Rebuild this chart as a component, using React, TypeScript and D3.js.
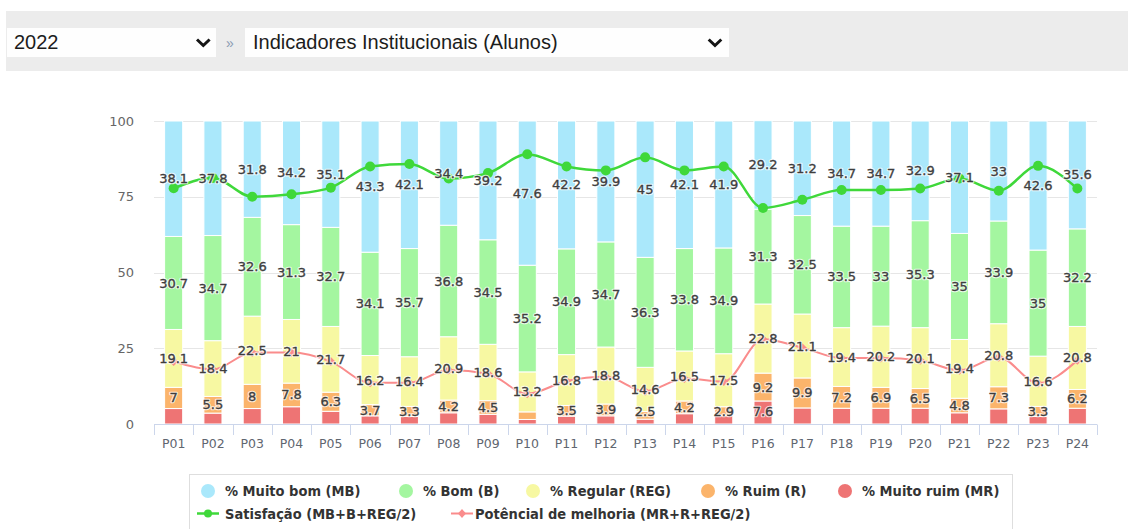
import * as d3 from 'd3';

// categories (questions) and stacked percentages
const categories = [
  'P01', 'P02', 'P03', 'P04', 'P05', 'P06', 'P07', 'P08', 'P09', 'P10', 'P11', 'P12',
  'P13', 'P14', 'P15', 'P16', 'P17', 'P18', 'P19', 'P20', 'P21', 'P22', 'P23', 'P24',
];
const muitoBom = [38.1, 37.8, 31.8, 34.2, 35.1, 43.3, 42.1, 34.4, 39.2, 47.6, 42.2, 39.9, 45, 42.1, 41.9, 29.2, 31.2, 34.7, 34.7, 32.9, 37.1, 33, 42.6, 35.6];
const bom = [30.7, 34.7, 32.6, 31.3, 32.7, 34.1, 35.7, 36.8, 34.5, 35.2, 34.9, 34.7, 36.3, 33.8, 34.9, 31.3, 32.5, 33.5, 33, 35.3, 35, 33.9, 35, 32.2];
const regular = [19.1, 18.4, 22.5, 21, 21.7, 16.2, 16.4, 20.9, 18.6, 13.2, 16.8, 18.8, 14.6, 16.5, 17.5, 22.8, 21.1, 19.4, 20.2, 20.1, 19.4, 20.8, 16.6, 20.8];
const ruim = [7, 5.5, 8, 7.8, 6.3, 3.7, 3.3, 4.2, 4.5, 2.5, 3.5, 3.9, 2.5, 4.2, 2.9, 9.2, 9.9, 7.2, 6.9, 6.5, 4.8, 7.3, 3.3, 6.2];
const muitoRuim = [5.1, 3.6, 5.1, 5.7, 4.2, 2.7, 2.5, 3.7, 3.2, 1.5, 2.6, 2.7, 1.6, 3.4, 2.8, 7.6, 5.3, 5.2, 5.2, 5.2, 3.7, 5.0, 2.5, 5.2];

// line series
const satisfacao = [77.8, 81.2, 75.0, 75.8, 78.0, 85.0, 85.8, 81.0, 82.8, 89.0, 85.0, 83.7, 88.0, 83.7, 85.0, 71.3, 74.0, 77.2, 77.2, 77.7, 81.0, 77.0, 85.2, 77.7];
const potencial = [20.6, 18.0, 23.6, 23.6, 20.6, 13.6, 13.6, 17.8, 16.6, 10.0, 14.2, 15.6, 10.8, 15.0, 14.0, 28.0, 25.2, 21.8, 21.8, 21.0, 17.7, 22.0, 13.5, 21.0];

const yTicks = [0, 25, 50, 75, 100];

type Key = 'mr' | 'r' | 'reg' | 'b' | 'mb';
const stackKeys: Key[] = ['mr', 'r', 'reg', 'b', 'mb'];
const colors: Record<Key, string> = {
  mb: '#aae8fb',
  b: '#a4f6a0',
  reg: '#f7f8a2',
  r: '#fbb46b',
  mr: '#ee7474',
};
// labels are placed in series order (top series first), later ones hidden on overlap
const labelOrder: Key[] = ['mb', 'b', 'reg', 'r', 'mr'];

const rows = categories.map((c, i) => ({
  cat: c,
  mb: muitoBom[i],
  b: bom[i],
  reg: regular[i],
  r: ruim[i],
  mr: muitoRuim[i],
}));

const GREEN = '#3fd83a';
const PINK = '#fa8c8c';

export default function App() {
  const x = d3
    .scaleBand<string>()
    .domain(categories)
    .range([154, 1097])
    .paddingInner(0.54)
    .paddingOuter(0.27);
  const y = d3.scaleLinear().domain([0, 100]).range([424, 121]);
  const bw = x.bandwidth();
  const cx = (c: string) => (x(c) ?? 0) + bw / 2;

  const stacked = d3.stack<(typeof rows)[number], Key>().keys(stackKeys)(rows);

  const line = d3
    .line<number>()
    .x((_, i) => cx(categories[i]))
    .y(v => y(v))
    .curve(d3.curveMonotoneX);

  // data label placement: centred in segment, pushed inside plot, hidden on overlap
  const labels: { x: number; y: number; text: string; key: string }[] = [];
  categories.forEach((c, i) => {
    const shown: number[] = [];
    labelOrder.forEach(k => {
      const layer = stacked.find(s => s.key === k)!;
      const [y0, y1] = layer[i];
      let ly = y((y0 + y1) / 2);
      ly = Math.min(ly, y(0) - 12.5);
      if (shown.some(s => Math.abs(s - ly) < 21)) return;
      shown.push(ly);
      labels.push({ x: cx(c), y: ly, text: String(rows[i][k]), key: `${c}-${k}` });
    });
  });

  const step = x.step();
  const tickXs = d3.range(categories.length + 1).map(i => x.range()[0] + i * step);

  const legendRow1: { label: string; color: string; cx: number }[] = [
    { label: '% Muito bom (MB)', color: colors.mb, cx: 208 },
    { label: '% Bom (B)', color: colors.b, cx: 406 },
    { label: '% Regular (REG)', color: colors.reg, cx: 533 },
    { label: '% Ruim (R)', color: colors.r, cx: 708 },
    { label: '% Muito ruim (MR)', color: colors.mr, cx: 845 },
  ];

  const chartFont = '"DejaVu Sans", Verdana, sans-serif';
  const legendFont = '"DejaVu Sans Condensed", "DejaVu Sans", sans-serif';

  return (
    <svg
      width={1128}
      height={529}
      style={{ position: 'absolute', left: 0, top: 0, background: '#fff' }}
    >
      {/* header with the two selects */}
      <rect x={6} y={11} width={1122} height={60} fill="#ececec" />
      <rect x={7} y={28} width={209} height={29} fill="#fefefe" />
      <text x={14} y={49} fontFamily='"Liberation Sans", Arial, sans-serif' fontSize={20} fill="#1c1c1c">
        2022
      </text>
      <path d="M197,39.5 L203.3,45.5 L209.6,39.5" fill="none" stroke="#151515" strokeWidth={3} />
      <text x={230} y={48} textAnchor="middle" fontFamily='"Liberation Sans", Arial, sans-serif' fontSize={14} fill="#8a9bb3">
        »
      </text>
      <rect x={245} y={28} width={484} height={29} fill="#fefefe" />
      <text x={253} y={49} fontFamily='"Liberation Sans", Arial, sans-serif' fontSize={20} fill="#1c1c1c">
        Indicadores Institucionais (Alunos)
      </text>
      <path d="M708.7,39.5 L715,45.5 L721.3,39.5" fill="none" stroke="#151515" strokeWidth={3} />

      {/* grid + y labels */}
      {yTicks.map(t => (
        <g key={t}>
          {t > 0 && (
            <line x1={154} x2={1097} y1={Math.round(y(t)) + 0.5} y2={Math.round(y(t)) + 0.5} stroke="#e6e6e6" />
          )}
          <text
            x={134}
            y={y(t)}
            dy="0.35em"
            textAnchor="end"
            fontFamily={chartFont}
            fontSize={13}
            fill="#666"
          >
            {t}
          </text>
        </g>
      ))}

      {/* stacked bars */}
      {stacked.map(layer => (
        <g key={layer.key} fill={colors[layer.key as Key]}>
          {layer.map((d, i) => (
            <rect
              key={categories[i]}
              x={x(categories[i])}
              y={y(d[1])}
              width={bw}
              height={Math.max(0, y(d[0]) - y(d[1]))}
              stroke="#fff"
              strokeWidth={1}
            />
          ))}
        </g>
      ))}

      {/* x axis */}
      <line x1={154} x2={1097} y1={424.5} y2={424.5} stroke="#ccd6eb" />
      {tickXs.map((tx, i) => (
        <line key={i} x1={Math.round(tx) + 0.5} x2={Math.round(tx) + 0.5} y1={424.5} y2={435} stroke="#ccd6eb" />
      ))}
      {categories.map(c => (
        <text key={c} x={cx(c)} y={448} textAnchor="middle" fontFamily={chartFont} fontSize={12.5} fill="#5f6670">
          {c}
        </text>
      ))}

      {/* lines */}
      <path d={line(potencial) ?? ''} fill="none" stroke={PINK} strokeWidth={2} />
      {potencial.map((v, i) => {
        const px = cx(categories[i]);
        const py = y(v);
        return (
          <path key={i} d={`M${px},${py - 4.5}L${px + 4.5},${py}L${px},${py + 4.5}L${px - 4.5},${py}Z`} fill={PINK} />
        );
      })}
      <path d={line(satisfacao) ?? ''} fill="none" stroke={GREEN} strokeWidth={2.5} />
      {satisfacao.map((v, i) => (
        <circle key={i} cx={cx(categories[i])} cy={y(v)} r={5} fill={GREEN} />
      ))}

      {/* data labels: white halo first, then a slightly heavier glyph on top */}
      <g fontFamily={chartFont} fontSize={13} textAnchor="middle">
        {labels.map(l => (
          <text
            key={`h-${l.key}`}
            x={l.x}
            y={l.y}
            dy="0.35em"
            fill="none"
            stroke="#fff"
            strokeOpacity={0.75}
            strokeWidth={2.6}
            strokeLinejoin="round"
          >
            {l.text}
          </text>
        ))}
        {labels.map(l => (
          <text key={l.key} x={l.x} y={l.y} dy="0.35em" fill="#3e3e3e" stroke="#3e3e3e" strokeWidth={0.35}>
            {l.text}
          </text>
        ))}
      </g>

      {/* legend */}
      <rect x={189.5} y={474.5} width={823} height={80} fill="none" stroke="#dedede" />
      {legendRow1.map(item => (
        <g key={item.label}>
          <circle cx={item.cx} cy={491} r={7} fill={item.color} />
          <text x={item.cx + 17} y={491} dy="0.35em" fontFamily={legendFont} fontWeight="bold" fontSize={14.5} fill="#333">
            {item.label}
          </text>
        </g>
      ))}
      <g>
        <line x1={197} x2={219} y1={513.5} y2={513.5} stroke={GREEN} strokeWidth={2.5} />
        <circle cx={208} cy={513.5} r={4} fill={GREEN} />
        <text x={225} y={513.5} dy="0.35em" fontFamily={legendFont} fontWeight="bold" fontSize={14.5} fill="#333">
          Satisfação (MB+B+REG/2)
        </text>
      </g>
      <g>
        <line x1={451} x2={473} y1={513.5} y2={513.5} stroke={PINK} strokeWidth={2} />
        <path d="M462,509L466,513.5L462,518L458,513.5Z" fill={PINK} />
        <text x={475} y={513.5} dy="0.35em" fontFamily={legendFont} fontWeight="bold" fontSize={14.5} fill="#333">
          Potêncial de melhoria (MR+R+REG/2)
        </text>
      </g>
    </svg>
  );
}
